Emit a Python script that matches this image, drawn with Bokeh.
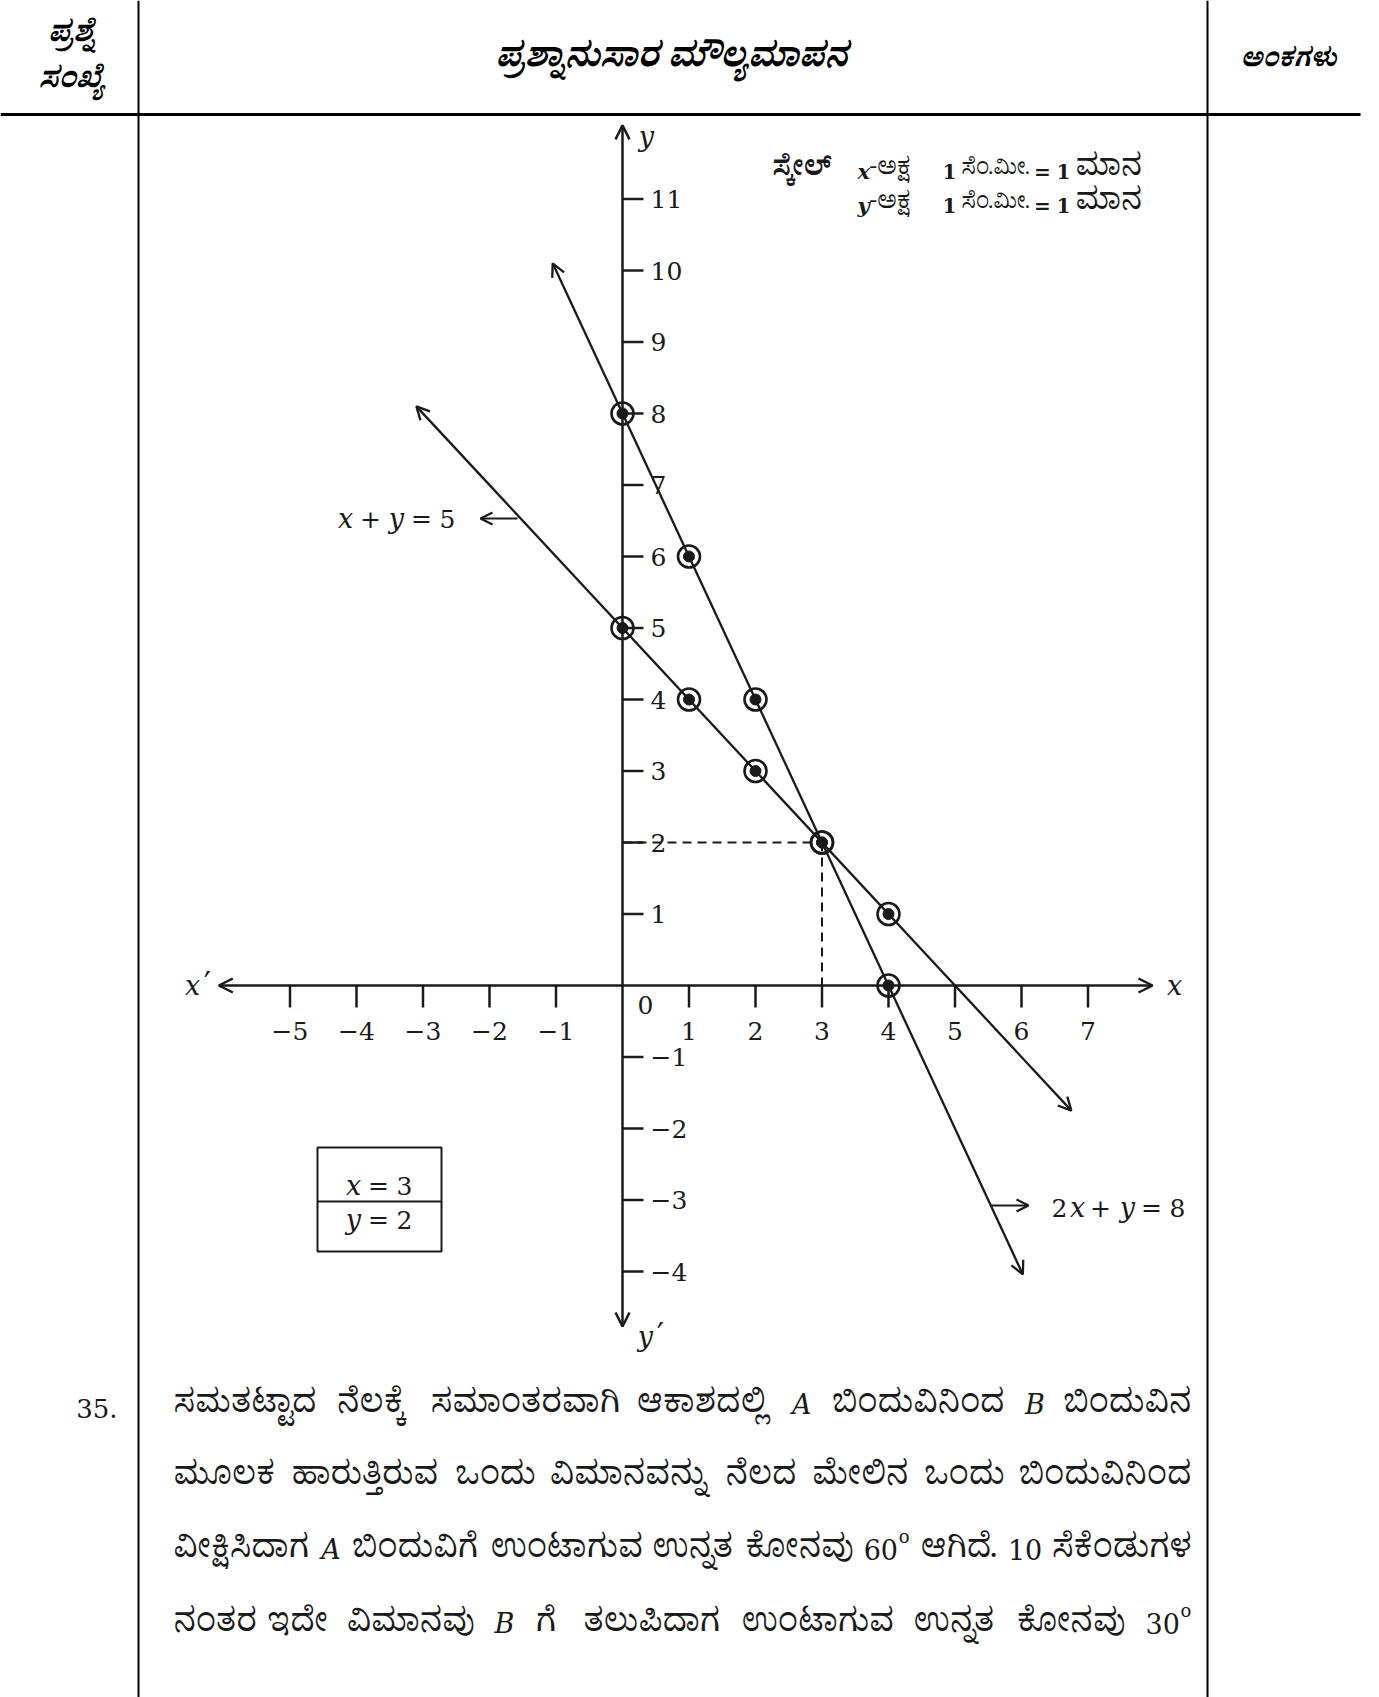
from bokeh.plotting import figure
from bokeh.models import Range1d, Arrow, OpenHead
from bokeh.core.properties import value
from bokeh.embed import file_html
from bokeh.resources import INLINE

# ---------------- data ----------------
x_ticks = [-5, -4, -3, -2, -1, 1, 2, 3, 4, 5, 6, 7]
x_tick_labels = ["−5", "−4", "−3", "−2", "−1", "1", "2", "3", "4", "5", "6", "7"]
y_ticks = [11, 10, 9, 8, 7, 6, 5, 4, 3, 2, 1, -1, -2, -3, -4]
y_tick_labels = ["11", "10", "9", "8", "7", "6", "5", "4", "3", "2", "1", "−1", "−2", "−3", "−4"]

# x + y = 5 : plotted points and drawn extent
eq1_x = [0, 1, 2, 3, 4]
eq1_y = [5, 4, 3, 2, 1]
eq1_ends_x = [-3.1, 6.75]
eq1_ends_y = [8.1, -1.75]

# 2x + y = 8 : plotted points and drawn extent
eq2_x = [0, 1, 2, 3, 4]
eq2_y = [8, 6, 4, 2, 0]
eq2_ends_x = [-1.05, 6.02]
eq2_ends_y = [10.1, -4.04]

# solution
sol_x, sol_y = 3, 2

# axes extent
x_axis_ends = [-6.07, 7.97]
y_axis_ends = [-4.77, 12.03]

# ---------------- page geometry ----------------
W, H = 1379, 1697
OX, OY = 622.0, 985.0      # origin on the page
UX, UY = 66.5, 71.5        # pixels per unit


def dx(px):
    return (px - OX) / UX


def dy(py):
    return (OY - py) / UY


INK = "#1a1a1a"
SERIF = "DejaVu Serif"
KN = "Noto Serif Kannada, Noto Sans Kannada, Noto Sans, sans-serif"

p = figure(width=W, height=H,
           x_range=Range1d(dx(0), dx(W)), y_range=Range1d(dy(H), dy(0)),
           output_backend="svg", toolbar_location=None, min_border=0,
           x_axis_location=None, y_axis_location=None)
p.grid.visible = False
p.outline_line_color = None
p.background_fill_color = "white"
p.border_fill_color = "white"


def put(xp, yp, s, size=26, font=SERIF, style="normal", align="left", color=INK):
    p.text(x=[dx(xp)], y=[dy(yp)], text=[s], text_font=value(font),
           text_font_size=f"{size}px", text_font_style=style,
           text_align=align, text_baseline="middle", text_color=color)


# ---------------- table frame ----------------
p.segment(x0=[dx(138), dx(1207)], y0=[dy(0), dy(0)],
          x1=[dx(138), dx(1207)], y1=[dy(H), dy(H)],
          line_color="black", line_width=2)
p.segment(x0=[dx(0)], y0=[dy(114)], x1=[dx(1360)], y1=[dy(114)],
          line_color="black", line_width=3)

put(70, 38, "ಪ್ರಶ್ನೆ", size=29, font=KN, style="bold italic", align="center", color="black")
put(70, 84, "ಸಂಖ್ಯೆ", size=29, font=KN, style="bold italic", align="center", color="black")
put(671, 62, "ಪ್ರಶ್ನಾನುಸಾರ ಮೌಲ್ಯಮಾಪನ", size=34, font=KN, style="bold italic", align="center", color="black")
put(1288, 62, "ಅಂಕಗಳು", size=26, font=KN, style="bold italic", align="center", color="black")

# ---------------- axes ----------------
head = dict(size=14, line_width=2.5, line_color=INK)
p.add_layout(Arrow(x_start=x_axis_ends[0], y_start=0, x_end=x_axis_ends[1], y_end=0,
                   start=OpenHead(**head), end=OpenHead(**head),
                   line_width=2.5, line_color=INK))
p.add_layout(Arrow(x_start=0, y_start=y_axis_ends[0], x_end=0, y_end=y_axis_ends[1],
                   start=OpenHead(**head), end=OpenHead(**head),
                   line_width=2.5, line_color=INK))

tick_x_len = 22 / UY
tick_y_len = 21 / UX
p.segment(x0=x_ticks, y0=[0] * len(x_ticks), x1=x_ticks, y1=[-tick_x_len] * len(x_ticks),
          line_color=INK, line_width=2.5)
p.segment(x0=[0] * len(y_ticks), y0=y_ticks, x1=[tick_y_len] * len(y_ticks), y1=y_ticks,
          line_color=INK, line_width=2.5)

p.text(x=x_ticks, y=[dy(1030)] * len(x_ticks), text=x_tick_labels,
       text_font=value(SERIF), text_font_size="25px", text_align="center",
       text_baseline="middle", text_color=INK)
p.text(x=[dx(650)] * len(y_ticks), y=y_ticks, text=y_tick_labels,
       text_font=value(SERIF), text_font_size="25px", text_align="left",
       text_baseline="middle", text_color=INK)
put(637, 1004, "0", size=25)

put(1174, 985, "x", size=27, style="italic", align="center")
put(192, 985, "x", size=27, style="italic", align="center")
put(207, 982, "′", size=32, align="center")
put(646, 136, "y", size=27, style="italic", align="center")
put(645, 1336, "y", size=27, style="italic", align="center")
put(660, 1333, "′", size=32, align="center")

# ---------------- graph lines ----------------
line_head = dict(size=13, line_width=2.3, line_color=INK)
p.add_layout(Arrow(x_start=eq1_ends_x[0], y_start=eq1_ends_y[0],
                   x_end=eq1_ends_x[1], y_end=eq1_ends_y[1],
                   start=OpenHead(**line_head), end=OpenHead(**line_head),
                   line_width=2.3, line_color=INK))
p.add_layout(Arrow(x_start=eq2_ends_x[0], y_start=eq2_ends_y[0],
                   x_end=eq2_ends_x[1], y_end=eq2_ends_y[1],
                   start=OpenHead(**line_head), end=OpenHead(**line_head),
                   line_width=2.3, line_color=INK))

# dashed guides to the solution
p.line(x=[0, sol_x], y=[sol_y, sol_y], line_color=INK, line_width=2, line_dash="9 6")
p.line(x=[sol_x, sol_x], y=[sol_y, 0], line_color=INK, line_width=2, line_dash="9 6")

# circled points
for xs, ys in ((eq1_x, eq1_y), (eq2_x, eq2_y)):
    p.scatter(x=xs, y=ys, size=22, fill_color=None, line_color=INK, line_width=2.6)
    p.scatter(x=xs, y=ys, size=11, fill_color=INK, line_color=INK)

# equation labels with pointer arrows
put(345, 518, "x", size=27, style="italic", align="center")
put(370, 518, "+", size=25, align="center")
put(396, 518, "y", size=27, style="italic", align="center")
put(421, 518, "=", size=25, align="center")
put(447, 518, "5", size=25, align="center")
p.add_layout(Arrow(x_start=dx(517), y_start=dy(518), x_end=dx(480), y_end=dy(518),
                   end=OpenHead(size=12, line_width=2.2, line_color=INK),
                   line_width=2.2, line_color=INK))

put(1059, 1207, "2", size=25, align="center")
put(1077, 1207, "x", size=27, style="italic", align="center")
put(1100, 1207, "+", size=25, align="center")
put(1127, 1207, "y", size=27, style="italic", align="center")
put(1151, 1207, "=", size=25, align="center")
put(1177, 1207, "8", size=25, align="center")
p.add_layout(Arrow(x_start=dx(990), y_start=dy(1205), x_end=dx(1028), y_end=dy(1205),
                   end=OpenHead(size=12, line_width=2.2, line_color=INK),
                   line_width=2.2, line_color=INK))

# solution box
p.quad(left=[dx(317)], right=[dx(441)], top=[dy(1147)], bottom=[dy(1251)],
       fill_color=None, line_color=INK, line_width=2)
p.segment(x0=[dx(317)], y0=[dy(1201)], x1=[dx(441)], y1=[dy(1201)],
          line_color=INK, line_width=2)
put(353, 1185, "x", size=27, style="italic", align="center")
put(378, 1185, "=", size=25, align="center")
put(404, 1185, str(sol_x), size=25, align="center")
put(353, 1219, "y", size=27, style="italic", align="center")
put(378, 1219, "=", size=25, align="center")
put(404, 1219, str(sol_y), size=25, align="center")

# scale note
put(772, 171, "ಸ್ಕೇಲ್", size=27, font=KN, style="bold")
for yy, ax in ((171, "x"), (205, "y")):
    put(857, yy, ax, size=21, style="bold italic")
    put(869, yy, "-ಅಕ್ಷ", size=24, font=KN)
    put(942, yy, "1", size=20, style="bold")
    put(961, yy, "ಸೆಂ.ಮೀ.", size=22, font=KN)
    put(1042, yy, "=", size=20, style="bold", align="center")
    put(1056, yy, "1", size=20, style="bold")
    put(1075, yy, "ಮಾನ", size=31, font=KN)

# ---------------- question text ----------------
put(117, 1408, "35.", size=26, align="right")

# Justified paragraph: each word carries an approximate rendered width so the
# spare room on a line can be spread evenly between the words.
# kind: 0 = Kannada, 1 = italic Latin letter, 2 = number, 3 = number with degree mark
KSIZE = 33
KSCALE = KSIZE / 35
LEFT, RIGHT = 173, 1191
para = [
    (1408, [("ಸಮತಟ್ಟಾದ", 0, 152), ("ನೆಲಕ್ಕೆ", 0, 78), ("ಸಮಾಂತರವಾಗಿ", 0, 197),
            ("ಆಕಾಶದಲ್ಲಿ", 0, 143), ("A", 1, 20), ("ಬಿಂದುವಿನಿಂದ", 0, 183),
            ("B", 1, 19), ("ಬಿಂದುವಿನ", 0, 135)]),
    (1480, [("ಮೂಲಕ", 0, 106), ("ಹಾರುತ್ತಿರುವ", 0, 155), ("ಒಂದು", 0, 81),
            ("ವಿಮಾನವನ್ನು", 0, 167), ("ನೆಲದ", 0, 73), ("ಮೇಲಿನ", 0, 100),
            ("ಒಂದು", 0, 81), ("ಬಿಂದುವಿನಿಂದ", 0, 183)]),
    (1553, [("ವೀಕ್ಷಿಸಿದಾಗ", 0, 145), ("A", 1, 20), ("ಬಿಂದುವಿಗೆ", 0, 135),
            ("ಉಂಟಾಗುವ", 0, 160), ("ಉನ್ನತ", 0, 87), ("ಕೋನವು", 0, 114),
            ("60", 3, 46), ("ಆಗಿದೆ.", 0, 81), ("10", 2, 34), ("ಸೆಕೆಂಡುಗಳ", 0, 147)]),
    (1627, [("ನಂತರ", 0, 77), ("ಇದೇ", 0, 62), ("ವಿಮಾನವು", 0, 134), ("B", 1, 20),
            ("ಗೆ", 0, 28), ("ತಲುಪಿದಾಗ", 0, 145), ("ಉಂಟಾಗುವ", 0, 160),
            ("ಉನ್ನತ", 0, 87), ("ಕೋನವು", 0, 114), ("30", 3, 46)]),
]
for yy, words in para:
    widths = [w * KSCALE if k == 0 else w for _, k, w in words]
    gap = (RIGHT - LEFT - sum(widths)) / (len(words) - 1)
    xx = LEFT
    for i, ((word, kind, _), wd) in enumerate(zip(words, widths)):
        last = i == len(words) - 1
        if kind == 0:
            if last:
                put(RIGHT, yy, word, size=KSIZE, font=KN, align="right")
            else:
                put(xx, yy, word, size=KSIZE, font=KN)
        elif kind == 1:
            put(xx, yy - 4, word, size=27, style="italic")
        elif kind == 2:
            put(xx, yy - 4, word, size=27)
        else:
            x0 = RIGHT - wd if last else xx
            put(x0, yy - 4, word, size=27)
            put(x0 + 35, yy - 17, "o", size=18)
        xx += wd + gap

open("out.html", "w").write(file_html(p, INLINE))
